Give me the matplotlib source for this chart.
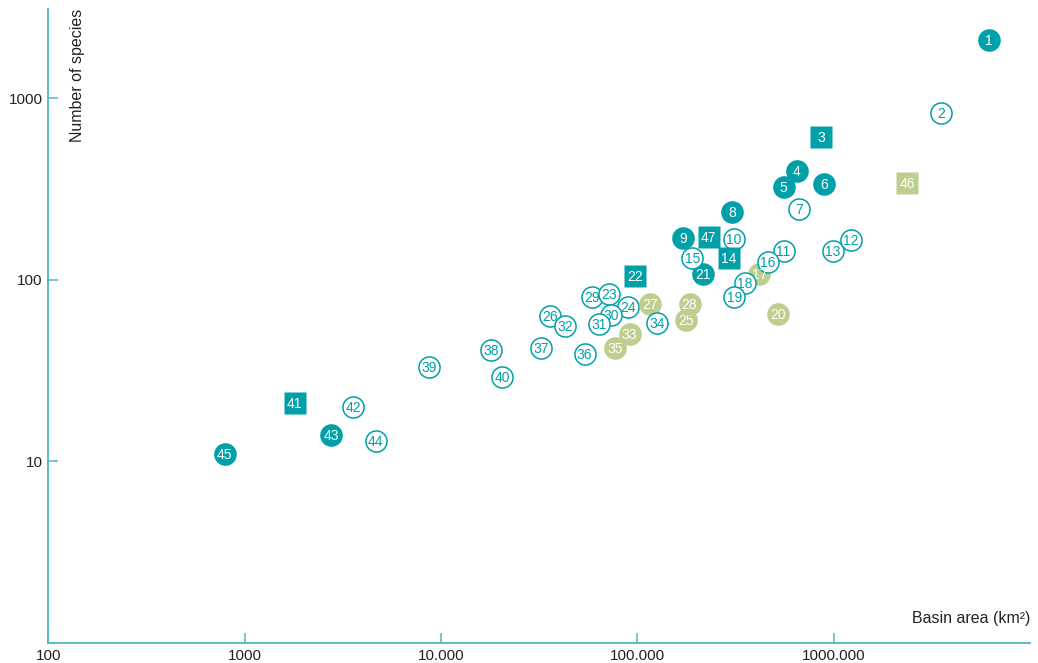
import matplotlib.pyplot as plt
from matplotlib.ticker import FixedLocator, NullLocator

plt.rcParams['font.family'] = ['Liberation Sans', 'DejaVu Sans']

teal = '#00A0A8'
green = '#BDCE8F'
axis_col = '#4DB8C0'

# basin number, area (km2), number of species, marker kind
ids = list(range(1, 48))
area = [6150000, 3530000, 867000, 650000, 556000, 891000, 668000, 304000,
        171000, 311000, 556000, 1220000, 991000, 292000, 191000, 463000,
        418000, 352000, 312000, 523000, 215000, 97700, 72100, 90000,
        177000, 36100, 116500, 184500, 58800, 73400, 63600, 42700,
        91400, 125800, 76700, 53900, 32500, 18000, 8670, 20500,
        1800, 3570, 2750, 4660, 790, 2370000, 231000]
species = [2080, 832, 614, 396, 324, 335, 245, 237,
           169, 168, 144, 166, 144, 132, 131, 126,
           107, 96, 80, 65, 107, 105, 83, 71,
           60, 63, 74, 74, 80, 64, 57, 56,
           50, 58, 42, 39, 42, 41, 33, 29,
           21, 20, 14, 13, 11, 339, 171]
kind = ['fill', 'open', 'sq', 'fill', 'fill', 'fill', 'open', 'fill',
        'fill', 'open', 'open', 'open', 'open', 'sq', 'open', 'open',
        'green', 'open', 'open', 'green', 'fill', 'sq', 'open', 'open',
        'green', 'open', 'green', 'green', 'open', 'open', 'open', 'open',
        'green', 'open', 'green', 'open', 'open', 'open', 'open', 'open',
        'sq', 'open', 'fill', 'open', 'fill', 'gsq', 'sq']

xticks = [100, 1000, 10000, 100000, 1000000]
xtick_labels = ['100', '1000', '10.000', '100.000', '1000.000']
yticks = [10, 100, 1000]

# stacking tweaks where markers overlap
z_fix = {29: 22.5, 13: 11.5, 21: 14.5, 47: 9.5, 17: 15.5}

fig = plt.figure(figsize=(10.38, 6.63), dpi=100)
ax = fig.add_axes([0.0465, 0.0302, 0.9458, 0.9563])
ax.set_xscale('log')
ax.set_yscale('log')

for i, x, y, k in zip(ids, area, species, kind):
    z = z_fix.get(i, i) * 2 + 10
    if k == 'open':
        ax.plot(x, y, 'o', ms=15.2, mfc='white', mec=teal, mew=1.1, zorder=z)
        tc = teal
    elif k == 'fill':
        ax.plot(x, y, 'o', ms=16.3, mfc=teal, mec='none', zorder=z)
        tc = 'white'
    elif k == 'green':
        ax.plot(x, y, 'o', ms=16.3, mfc=green, mec='none', zorder=z)
        tc = 'white'
    elif k == 'sq':
        ax.plot(x, y, 's', ms=15.4, mfc=teal, mec='none', zorder=z)
        tc = 'white'
    else:
        ax.plot(x, y, 's', ms=15.4, mfc=green, mec='none', zorder=z)
        tc = 'white'
    ax.annotate(str(i), (x, y), xytext=(0, -3.6), textcoords='offset points',
                color=tc, fontsize=10, ha='center', va='baseline',
                zorder=z + 1)

ax.set_xlim(100, 1e7)
ax.set_ylim(1, 3100)

ax.xaxis.set_major_locator(FixedLocator(xticks))
ax.set_xticklabels(xtick_labels)
ax.yaxis.set_major_locator(FixedLocator(yticks))
ax.set_yticklabels([str(v) for v in yticks])
ax.xaxis.set_minor_locator(NullLocator())
ax.yaxis.set_minor_locator(NullLocator())

ax.tick_params(direction='in', length=7.5, width=1.1, color=axis_col,
               labelsize=11, labelcolor='#222222', pad=4)

for s in ['top', 'right']:
    ax.spines[s].set_visible(False)
for s in ['left', 'bottom']:
    ax.spines[s].set_color(axis_col)
    ax.spines[s].set_linewidth(1.3)

ax.text(0.0295, 1.0, 'Number of species', rotation=90, ha='center', va='top',
        fontsize=11.5, color='#222222', transform=ax.transAxes)
ax.text(1.0, 0.038, 'Basin area (km²)', ha='right', va='center',
        fontsize=11.5, color='#222222', transform=ax.transAxes)

fig.savefig('out.png', dpi=100)
